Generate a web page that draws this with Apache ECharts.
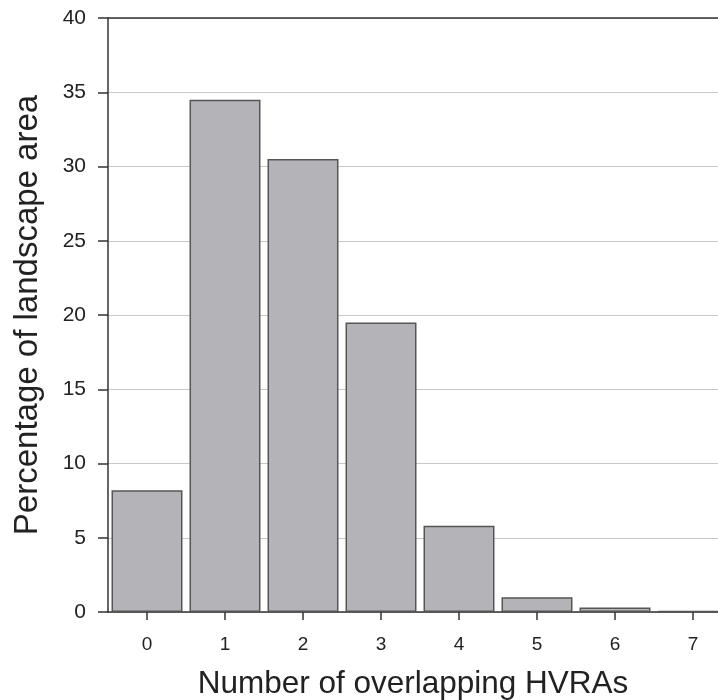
<!DOCTYPE html>
<html><head><meta charset="utf-8">
<script src="https://cdn.jsdelivr.net/npm/echarts@6/dist/echarts.min.js"></script>
<style>html,body{margin:0;padding:0;background:#fff}#c{width:718px;height:700px}</style>
</head><body><div id="c"></div>
<script>
const categories = ['0','1','2','3','4','5','6','7'];
const values = [8.2, 34.5, 30.5, 19.5, 5.8, 1.0, 0.3, 0.08];
const yTicks = [0,5,10,15,20,25,30,35,40];

const chart = echarts.init(document.getElementById('c'));
chart.setOption({
  animation:false,
  grid:{left:108, right:-14, top:18, bottom:88, containLabel:false, outerBoundsMode:'none'},
  xAxis:[{
    type:'category', data:categories,
    name:'Number of overlapping HVRAs', nameLocation:'middle', nameGap:56,
    nameTextStyle:{fontFamily:'Liberation Sans', fontSize:31.5, color:'#222', padding:[0,0,0,-14]},
    axisLine:{lineStyle:{color:'#333', width:1.5}},
    axisTick:{show:true, alignWithLabel:true, inside:false, length:8, lineStyle:{color:'#333', width:1.5}},
    axisLabel:{fontFamily:'Liberation Sans', fontSize:19, color:'#222', margin:23}
  },{
    type:'category', data:categories, position:'top',
    axisLine:{show:true, lineStyle:{color:'#333', width:1.5}},
    axisTick:{show:false}, axisLabel:{show:false}
  }],
  yAxis:{
    type:'value', min:0, max:40, interval:5,
    name:'Percentage of landscape area', nameLocation:'middle', nameGap:64,
    nameTextStyle:{fontFamily:'Liberation Sans', fontSize:33, color:'#222'},
    axisLine:{show:true, lineStyle:{color:'#333', width:1.5}},
    axisTick:{show:true, inside:false, length:10, lineStyle:{color:'#333', width:1.5}},
    axisLabel:{fontFamily:'Liberation Sans', fontSize:21, color:'#222', margin:22,
      formatter:v=>yTicks.includes(v)?String(v):''},
    splitLine:{lineStyle:{color:'#c8c8c8', width:1.2}}
  },
  series:[{
    type:'bar', data:values, barCategoryGap:'9%',
    itemStyle:{color:'#b4b4b8', borderColor:'#555', borderWidth:1.5}
  }]
});
</script></body></html>
